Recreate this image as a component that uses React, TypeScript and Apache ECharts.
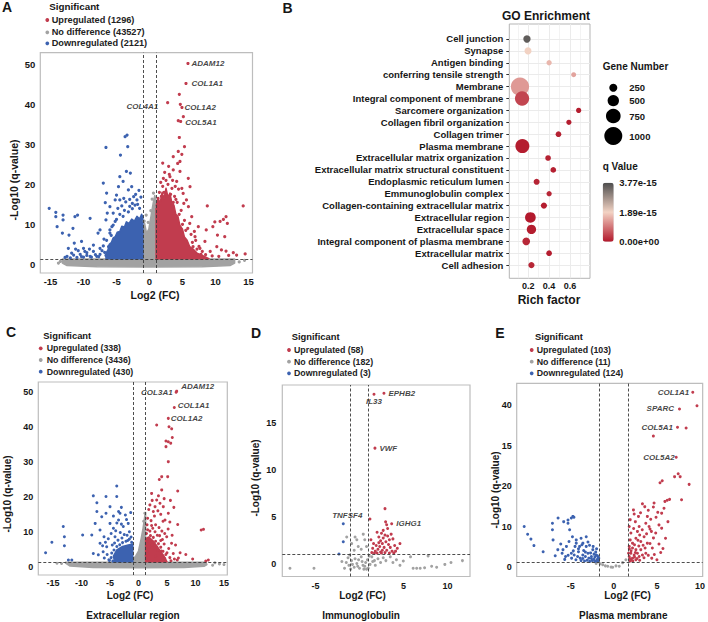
import React, { useEffect, useRef } from 'react';
import * as echarts from 'echarts';

// ================= DATA =================
// ---- Panel A : all genes ----
const A_UP = [
  [5.83,50.2],[5.53,45.2],[4.52,42.5],[2.75,40.4],[4.67,40.0],[4.92,39.2],[5.13,36.9],[4.36,35.9],[4.72,35.7],[4.52,31.7],
  [4.36,28.2],[4.62,25.7],[4.27,25.2],[3.6,23.6],[4.62,23.2],[5.88,21.5],[3.1,21.9],[4.12,20.7],[6.14,19.4],[8.76,14.6],
  [14.2,14.6],[11.6,11.9],[11.2,11.2],[10.7,10.7],[9.9,10.6],[11.8,10.2],[9.6,9.4],[10.3,7.3],[11.4,6.9],[8.6,8.6],
  [7.4,9.4],[6.1,10.2],[8.4,5.7],[10.2,4.4],[10.9,3.6],[11.6,3.3],[13.2,2.3],[14.5,2.6],[12.7,2.9],[9.2,3.2],
  [7.65,4.0],[6.9,6.9],[6.6,4.4],[5.6,16.1],[5.1,17.7],[5.9,14.4],[6.4,11.9],[1.5,18],[2,19.5],[2.5,21],
  [3,22.5],[2.8,20],[3.4,19],[3.8,17],[4.2,15.5],[4.8,13.5],[5.3,11],[5.8,9],[6.3,7.5],[7,6],
  [2.2,18],[1.8,17],[3.2,17.5],[4,16.2],[4.5,12.5],[5,10],[5.5,8.5],[6.5,5.5],[7.5,4.5],[8,3.2],
  [1.3,16.5],[2.6,17],[3.6,15.5],[2.3,23],[2.9,24.5],[3.5,21],[1.7,20.5],[4.9,19],[5.2,15.2],[6.8,8.2],
  [7.2,3.8],[8.5,2.4],[9.5,2.1],[10.5,2.0],[12,2.2],[7.8,2.5],[3.9,19.5],[2.1,21.5],[4.4,18.8],[2.0,25.3],
  [3.6,26.9],[5.3,29.4],[4.9,27.5]
];
const A_DOWN = [
  [-15.2,14.0],[-14.2,13.0],[-14.2,11.9],[-13.1,12.3],[-13.1,11.1],[-14.0,9.4],[-13.2,7.8],[-12.2,7.3],[-11.3,11.9],[-10.9,12.3],
  [-11.6,9.0],[-11.4,5.3],[-10.3,5.7],[-12.3,4.0],[-11.8,2.8],[-10.8,3.4],[-10.0,4.0],[-9.5,2.9],[-9.0,11.5],[-9.1,3.8],
  [-8.5,4.8],[-7.8,7.8],[-7.5,4.0],[-7.0,20.3],[-6.6,29.2],[-6.5,17.8],[-6.7,15.4],[-7.5,8.6],[-6.4,12.8],[-6.0,14.4],
  [-5.7,9.4],[-5.2,16.1],[-5.0,17.3],[-4.7,19.4],[-4.5,21.9],[-4.4,27.3],[-4.0,20.7],[-3.7,31.9],[-3.4,32.3],[-3.5,23.2],
  [-3.3,29.4],[-2.9,22.8],[-2.7,19.4],[-2.4,16.9],[-1.9,16.1],[-2.2,14.8],[-1.5,14.0],[-3.2,18.6],[-3.9,16.5],[-4.5,16.1],
  [-5.5,12.8],[-6.6,11.1],[-5.2,10.7],[-6.0,7.8],[-6.9,6.3],[-6.2,4.4],[-6,8.6],[-5.5,9.8],[-5,11.2],[-4.5,12.5],
  [-3.8,13.5],[-3,14.5],[-2.6,15.2],[-1.8,15.0],[-4,12],[-3.2,13.1],[-2.6,13.9],[-5.8,7.2],[-6.5,6],[-7,4.6],
  [-6.8,3],[-7.5,2.5],[-8,2],[-9,2],[-10,1.8],[-11,1.7],[-12,1.6],[-12.5,2],[-11.5,2.3],[-10.5,2.5],
  [-9.5,2.2],[-8.5,3.2],[-8.2,2.4],[-7.2,3.4],[-6.6,2.2],[-9.8,3.2],[-10.3,1.9],[-11.2,3.8],[-12.8,1.7],[-8.8,1.8],
  [-7.7,1.9],[-4.8,14.0],[-3.6,15.6],[-2.1,17.5],[-1.3,16.8],[-4.2,14.6],[-1.6,18.5],[-3.0,16.2]
];
const A_NS = [
  [0.6,17.8],[0.4,16.3],[-0.5,12.3],[0.7,14.3],[-0.8,10.8],[0.2,13.4],[-0.2,10.5],[13.6,0.6],[14.4,1.0],[-13.5,0.7],[-13.8,0.3]
];
const A_UP_CORE = [
  [1.0,1.4],[1.0,14.5],[1.3,16.5],[1.6,15.2],[1.9,18.0],[2.2,16.4],[2.5,19.0],[2.8,16.8],[3.1,17.8],[3.4,15.2],
  [3.7,14.8],[4.0,12.5],[4.3,12.0],[4.6,9.8],[5.0,8.8],[5.3,6.8],[5.7,6.0],[6.1,4.4],[6.6,3.8],[7.2,2.8],[8.0,2.2],[9.0,1.4]
];
const A_DOWN_CORE = [
  [-6.6,1.4],[-6.6,2.8],[-6.3,3.6],[-6.1,5.0],[-5.8,5.4],[-5.5,6.6],[-5.2,6.9],[-4.9,8.0],[-4.5,8.2],[-4.2,9.5],
  [-3.8,9.3],[-3.5,10.6],[-3.1,10.2],[-2.7,11.3],[-2.3,10.8],[-1.9,12.0],[-1.5,11.3],[-1.2,12.5],[-1.0,11.8],[-1.0,1.4]
];
const A_NS_BAND = [[-13.2,0.3],[-12.5,-0.3],[-8,-0.6],[0,-0.7],[8,-0.6],[12.2,-0.3],[12.9,0.3],[12.9,1.3],[-13.2,1.3]];
const A_NS_SPIKE = [[-1.0,1.3],[-1.0,8.5],[-0.75,10.3],[-0.45,7.8],[-0.1,8.8],[0.25,12.2],[0.55,15.2],[0.8,17.2],[1.0,15.8],[1.0,1.3]];
const A_GENES = [['ADAM12',5.83,50.2],['COL1A1',5.53,45.2],['COL1A2',4.92,39.2],['COL5A1',4.72,35.7],['COL4A1',2.75,40.4]];
const A_LEGEND = ['Upregulated (1296)', 'No difference (43527)', 'Downregulated (2121)'];

// ---- Panel C : Extracellular region ----
const C_UP = [
  [6.7,50.3],[6.6,50.0],[6.28,45.6],[5.23,42.5],[3.19,40.6],[5.35,40.1],[5.82,39.5],[4.82,36.0],[5.23,35.8],[5.65,35.4],
  [5.93,37.0],[4.82,34.4],[5.23,30.1],[4.07,25.8],[3.65,25.0],[5.12,25.8],[6.88,21.7],[2.3,21.0],[4.07,22.0],[6.88,12.1],
  [11.0,10.5],[11.4,10.7],[8.3,3.5],[12.25,1.9],[11.8,1.6],[7.3,4.0],[6.1,3.8],[5.8,6.7],[4.95,8.6],[4.65,13.4],
  [5.23,15.3],[4.35,17.2],[3.77,18.2],[3.19,19.1],[2.6,15.8],[2.0,17.7],[1.6,13.9],[1.5,12],[2.2,13.2],[2.8,14.5],
  [3.4,16],[3.9,15],[4.3,13],[3.0,12],[2.5,11],[3.6,11.2],[4.1,10.2],[4.6,9.5],[5.2,10.8],[5.5,12.8],
  [3.3,9.0],[2.0,10.2],[1.4,9.5],[3.9,7.5],[4.5,6.5],[5.3,5.2],[6.5,6.2],[5.9,9.0],[1.8,16.4],[2.4,19.0],
  [3.5,20.3],[4.5,19.5],[2.9,17.2],[6.2,17.0],[5.6,19.0],[7.0,2.5],[9.5,2.2],[6.8,1.9],[1.5,4.5],[3.0,3.0],
  [4.0,4.5],[1.4,6.5],[1.7,7.8],[2.1,8.9],[2.6,8.4],[3.0,7.3],[3.5,6.6],[3.9,5.6],[4.3,4.4],[4.8,3.5],
  [5.5,2.6],[1.6,10.6],[2.3,11.8],[2.9,10.0],[3.7,8.9],[4.2,7.8],[5.0,4.0],[1.9,5.5],[2.4,6.2],[6.3,2.2],
  [5.7,1.7],[3.4,4.8],[2.7,5.4],[4.6,2.3],[1.35,3.2]
];
const C_DOWN = [
  [-3.82,23.1],[-7.93,20.3],[-5.7,20.1],[-3.82,20.1],[-7.3,18.3],[-5.0,17.2],[-3.5,15.8],[-3.25,15.3],[-7.3,15.8],[-6.45,14.3],
  [-5.7,15.3],[-1.37,15.5],[-13.2,11.5],[-13.0,8.6],[-13.0,6.0],[-15.2,7.0],[-16.3,4.0],[-9.8,9.1],[-8.2,9.1],[-7.6,12.4],
  [-6.75,10.5],[-6.05,8.6],[-6.75,6.7],[-7.93,3.8],[-12.3,1.9],[-11.7,1.9],[-5.0,12.4],[-4.4,11.0],[-3.5,13.4],[-2.67,11.5],
  [-1.8,12.4],[-4.12,8.6],[-5.58,5.7],[-6.2,4.3],[-7.05,3.4],[-4.8,9.5],[-4.0,10.3],[-3.2,9.8],[-2.5,9.2],[-1.6,10.0],
  [-2.1,13.5],[-3.0,12.2],[-5.3,8.0],[-5.8,7.0],[-6.3,6.0],[-5.5,3.5],[-6.0,2.5],[-5.2,2.0],[-3.8,12.5],[-2.3,14.8],
  [-1.9,7.5],[-1.3,8.5],[-4.4,14.5],[-3.0,17.0],[-4.6,6.2],[-1.2,7.0],[-1.6,7.9],[-2.2,7.3],[-2.8,6.9],[-3.3,6.3],
  [-3.8,5.8],[-4.3,4.8],[-4.7,3.9],[-4.8,2.6],[-2.0,9.0],[-2.9,8.2],[-3.6,7.6],[-4.2,6.8],[-1.5,5.8],[-5.1,1.8],[-4.5,1.6]
];
const C_NS = [[14.2,0.8],[13.4,1.1],[13.0,0.4],[-13.5,0.9],[-14.3,1.0],[15.0,0.6],[1.1,15.3],[0.9,13.0]];
const C_UP_CORE = [[1.25,1.4],[1.25,8.0],[1.8,8.5],[2.5,7.5],[3.2,6.0],[3.8,4.5],[4.5,3.0],[5.0,1.4]];
const C_DOWN_CORE = [[-4.2,1.4],[-4.4,3.0],[-3.8,4.8],[-2.8,5.8],[-1.8,6.2],[-1.0,6.5],[-1.0,1.4]];
const C_NS_BAND = [[-12.8,1.0],[-12.0,0.2],[-8,-0.2],[0,-0.3],[8,-0.2],[11.5,0.1],[12.0,0.6],[11.8,1.3],[-12.8,1.3]];
const C_NS_SPIKE = [[-1.0,1.3],[-1.0,2.2],[-0.5,3.0],[0.0,4.5],[0.4,7.5],[0.8,11.0],[1.1,14.5],[1.25,15.5],[1.25,1.3]];
const C_GENES = [['ADAM12',6.7,50.3],['COL3A1',6.6,50.0],['COL1A1',6.28,45.6],['COL1A2',5.23,42.5]];
const C_LEGEND = ['Upregulated (338)', 'No difference (3436)', 'Downregulated (430)'];

// ---- Panel D : Immunoglobulin ----
const D_UP = [
  [2.78,18.1],[1.65,18.0],[1.76,12.3],[2.9,5.9],[1.19,4.8],[2.97,4.5],[3.09,4.2],[3.66,4.3],[2.0,3.4],[2.5,3.3],
  [2.9,3.1],[3.2,3.0],[2.2,2.9],[2.7,2.8],[3.4,2.6],[3.8,2.7],[2.4,2.5],[3.0,2.4],[1.6,2.2],[2.6,2.2],
  [3.3,2.1],[4.0,2.0],[4.6,2.2],[1.9,2.0],[2.3,1.9],[2.8,1.8],[3.5,1.8],[4.3,1.7],[1.5,1.7],[2.1,1.6],
  [2.6,1.5],[3.1,1.5],[3.7,1.4],[1.8,1.4],[2.4,1.3],[2.9,1.25],[1.4,1.25],[2.0,1.2],[3.4,1.2],[4.1,1.4],
  [1.3,2.6],[2.2,2.3],[3.6,3.2],[2.5,1.2],[1.7,1.2],[3.9,1.2],[2.7,3.6],[3.2,3.8]
];
const D_DOWN = [[-1.84,4.3],[-1.84,2.4],[-2.33,1.1]];
const D_NS = [
  [-1.5,0.2],[-1.2,-0.1],[-0.9,0.4],[-0.6,-0.3],[-0.3,0.1],[0.0,-0.4],[0.3,0.3],[0.6,-0.2],[0.9,0.5],[1.2,0.0],
  [1.5,0.3],[1.8,-0.1],[2.1,0.6],[-1.7,-0.4],[-1.0,-0.5],[-0.5,0.6],[0.2,0.8],[0.5,-0.5],[1.0,-0.4],[1.4,0.8],
  [2.4,0.2],[2.7,0.7],[-0.2,-0.2],[-0.8,0.0],[0.7,0.2],[1.1,0.9],[-1.3,0.7],[3.0,0.4],[3.5,0.8],[-2.0,0.3],
  [0.4,-0.1],[-0.1,0.5],[1.7,0.4],[0.8,-0.5],[-1.1,1.0],[0.43,3.2],[-0.5,2.9],[0.6,2.6],[-1.45,2.9],[-0.89,2.2],
  [-0.14,1.9],[0.2,1.6],[-0.6,1.5],[0.8,1.9],[-0.3,2.6],[-7.9,-0.4],[-5.17,-0.4],[4.98,0.36],[6.1,-0.4],[6.5,-0.4],
  [6.9,-0.4],[7.4,-0.35],[8.77,-0.3],[9.7,0.0],[10.4,0.2],[11.7,0.4],[7.8,0.9],[5.8,0.8],[4.2,0.5],[8.2,-0.2],
  [3.8,0.2],[4.6,-0.1]
];
const D_GENES = [['EPHB2',2.78,18.1],['IL33',1.65,18.0],['VWF',1.76,12.3],['TNFSF4',-1.84,4.3],['IGHG1',3.66,4.3]];
const D_LEGEND = ['Upregulated (58)', 'No difference (182)', 'Downregulated (3)'];

// ---- Panel E : Plasma membrane ----
const E_UP = [
  [9.16,43.2],[9.65,39.9],[7.62,39.1],[7.39,34.6],[8.39,34.4],[4.59,32.4],[7.24,27.2],[7.47,23.1],[7.7,22.4],[7.05,22.4],
  [5.62,21.4],[5.36,20.9],[8.74,20.5],[7.86,16.7],[6.47,16.8],[6.2,16.6],[5.93,16.3],[5.82,14.6],[6.28,11.3],[3.32,15.7],
  [3.59,15.0],[4.67,15.9],[4.59,14.9],[2.28,14.2],[2.36,13.2],[2.86,12.6],[3.89,12.6],[4.28,11.9],[5.55,13.4],[3.71,10.9],
  [4.09,10.1],[5.24,10.5],[5.55,9.7],[4.2,9.5],[4.36,8.9],[4.86,8.5],[2.94,10.1],[2.74,8.9],[1.79,10.1],[1.98,8.5],
  [2.56,7.2],[3.13,6.4],[3.51,7.6],[3.89,6.0],[5.24,5.8],[4.47,4.8],[3.63,4.8],[5.44,3.7],[4.4,2.3],[2.17,6.0],
  [1.79,5.2],[2.17,4.8],[2.56,4.4],[1.98,3.5],[2.36,3.1],[2.74,3.5],[1.79,2.7],[2.17,2.3],[2.56,1.9],[2.94,2.7],
  [3.32,3.1],[1.98,1.9],[1.71,3.5],[3.13,4.4],[3.71,3.5],[2.0,4.1],[2.4,2.6],[1.85,2.2],[2.7,2.2],[3.0,1.8],
  [2.2,1.6],[1.9,1.6],[2.5,3.7],[3.5,2.4],[4.0,3.0],[1.8,4.6],[2.9,5.3],[3.4,5.5],[4.2,5.9],[3.0,8.0],
  [3.3,9.3],[4.6,7.3],[2.3,9.6],[1.9,11.8],[2.5,11.3],[3.8,8.3],[4.9,12.4],[3.1,13.5],[4.0,14.1],[5.1,13.6],
  [6.0,7.2],[5.7,4.7],[4.7,3.2],[5.0,1.9],[2.8,6.7],[2.4,5.6],[1.9,6.8]
];
const E_DOWN = [
  [-10.4,10.1],[-10.0,8.2],[-9.62,7.0],[-9.27,5.4],[-8.2,3.9],[-7.05,6.8],[-7.12,10.9],[-7.12,9.3],[-6.47,12.2],[-5.82,11.3],
  [-5.32,11.7],[-4.93,12.2],[-4.75,12.6],[-4.63,12.4],[-5.13,9.3],[-5.32,10.9],[-6.16,5.8],[-5.9,4.4],[-5.5,5.2],[-4.93,3.5],
  [-5.3,3.0],[-4.36,6.8],[-4.36,6.0],[-4.5,5.2],[-3.97,5.2],[-3.59,6.0],[-3.2,7.6],[-3.2,5.2],[-3.0,3.5],[-2.82,5.5],
  [-2.44,4.4],[-2.05,3.1],[-1.75,2.3],[-2.0,1.6],[-2.3,2.0],[-2.6,2.7],[-2.9,2.3],[-3.3,2.7],[-3.6,3.1],[-3.9,2.3],
  [-4.2,2.7],[-4.6,3.1],[-4.9,2.3],[-5.6,2.7],[-6.0,3.5],[-6.5,4.4],[-4.1,3.9],[-3.5,4.2],[-2.7,3.6],[-2.2,2.6],
  [-1.9,2.0],[-1.8,1.6],[-2.5,1.7],[-3.1,1.8],[-3.8,1.7],[-4.4,1.9],[-2.1,3.8],[-2.4,5.2],[-3.0,6.3],[-3.8,7.2],
  [-4.1,4.6],[-1.9,2.9],[-2.2,1.5],[-2.8,1.5],[-3.4,1.6],[-2.6,2.2],[-3.6,2.2],[-4.7,4.1],[-5.2,6.4],[-2.3,3.3],
  [-1.8,2.5],[-1.95,1.8],[-3.3,3.8],[-2.0,4.6],[-3.7,5.6],[-4.8,7.6],[-5.7,2.0],[-6.8,2.9]
];
const E_NS = [[-1.59,0.9],[-1.29,0.7],[-0.98,0.4],[-0.71,0.3],[-0.32,0.1],[-0.13,0.05],[0.25,0.4],[0.63,0.3],[1.02,1.2],[1.4,1.9],[-2.05,1.0]];
const E_GENES = [['COL1A1',9.16,43.2],['SPARC',7.62,39.1],['COL5A1',7.39,34.6],['COL5A2',7.24,27.2]];
const E_LEGEND = ['Upregulated (103)', 'No difference (11)', 'Downregulated (124)'];
const E_Y_TICKS = [0, 10, 20, 30, 40];
const E_Y_TICK_TEXT = ['0', '10', '20', '15', '40'];

// ---- Panel B : GO enrichment ----
const GO_TERMS = [
  'Cell junction', 'Synapse', 'Antigen binding', 'conferring tensile strength', 'Membrane',
  'Integral component of membrane', 'Sarcomere organization', 'Collagen fibril organization', 'Collagen trimer', 'Plasma membrane',
  'Extracellular matrix organization', 'Extracellular matrix structural constituent', 'Endoplasmic reticulum lumen', 'Emmunoglobulin complex', 'Collagen-containing extracellular matrix',
  'Extracellular region', 'Extracellular space', 'Integral component of plasma membrane', 'Extracellular matrix', 'Cell adhesion'
];
const GO_RICH = [0.187, 0.197, 0.40, 0.636, 0.12, 0.14, 0.684, 0.59, 0.49, 0.143, 0.39, 0.44, 0.28, 0.40, 0.35, 0.22, 0.23, 0.18, 0.40, 0.23];
const GO_GENES = [200, 175, 50, 25, 1020, 720, 45, 45, 75, 700, 75, 75, 100, 45, 120, 450, 350, 230, 75, 120];
const GO_Q = [3.55e-15, 1.9e-15, 1.6e-15, 1.4e-15, 1.3e-15, 0.45e-15, 0.05e-15, 0.05e-15, 0.1e-15, 0.05e-15,
  0.1e-15, 0.08e-15, 0.12e-15, 0.15e-15, 0.05e-15, 0.02e-15, 0.05e-15, 0.15e-15, 0.05e-15, 0.15e-15];
const GENE_NUMBER_LEGEND = [250, 500, 750, 1000];
const Q_LEGEND = ['3.77e-15', '1.89e-15', '0.00e+00'];
const Q_MAX = 3.77e-15;
const RICH_TICKS = [0.2, 0.4, 0.6];
const RICH_GRID = [0.1, 0.2, 0.3, 0.4, 0.5, 0.6, 0.7];

// ================= STYLE / LAYOUT =================
const FONT = '"Liberation Sans", Arial, Helvetica, sans-serif';
const RED = '#c13c4e';
const BLUE = '#3c62b0';
const GRAY = '#a2a2a2';
const INK = '#161616';
const sizeOf = (n: number) => 4.67 + n / 75;

const VOLCANOS = [
  { gi: 0, L: { left: 40.3, top: 52.7, width: 212.2, height: 220.3, xMin: -16.55, xMax: 15.61, yMin: -2.18, yMax: 52.9, xm: 3, ym: 5, tick: 9.5, pt: 3.2 },
    D: { up: A_UP, down: A_DOWN, ns: A_NS, upCore: A_UP_CORE, downCore: A_DOWN_CORE, nsPolys: [A_NS_BAND, A_NS_SPIKE],
      xTicks: [-15, -10, -5, 0, 5, 10, 15], yTicks: [0, 10, 20, 30, 40, 50], vLines: [-1, 1], hLine: 1.3, genes: A_GENES },
    genePos: [['right', 3, [0, 0]], ['right', 5, [0, 0]], ['right', 2, [0, 0]], ['right', 4, [0, 1]], ['left', 9, [0, 4]]] },
  { gi: 2, L: { left: 38.3, top: 382, width: 189, height: 193, xMin: -17.58, xMax: 15.58, yMin: -2.38, yMax: 52.92, xm: 3, ym: 5, tick: 9, pt: 3 },
    D: { up: C_UP, down: C_DOWN, ns: C_NS, upCore: C_UP_CORE, downCore: C_DOWN_CORE, nsPolys: [C_NS_BAND, C_NS_SPIKE],
      xTicks: [-15, -10, -5, 0, 5, 10, 15], yTicks: [0, 10, 20, 30, 40, 50], vLines: [-1.0, 1.25], hLine: 1.3, genes: C_GENES },
    genePos: [['right', 4, [0, -5]], ['left', 3, [0, 0]], ['right', 3, [0, -2]], ['right', 2, [0, 0]]] },
  { gi: 3, L: { left: 282.3, top: 385, width: 187.7, height: 191.5, xMin: -8.77, xMax: 12.56, yMin: -1.28, yMax: 18.98, xm: 5, ym: 6, tick: 9, pt: 3 },
    D: { up: D_UP, down: D_DOWN, ns: D_NS, upCore: null, downCore: null, nsPolys: [],
      xTicks: [-5, 5, 10], yTicks: [0, 5, 10, 15], vLines: [-1, 1], hLine: 1.1, genes: D_GENES },
    genePos: [['right', 4, [0, 0]], ['bottom', 3, [0, 0]], ['right', 4, [0, 0]], ['top', 3, [4, -1]], ['right', 4, [0, 0]]] },
  { gi: 4, L: { left: 516.7, top: 383.3, width: 187.3, height: 193.2, xMin: -11.27, xMax: 10.31, yMin: -2.22, yMax: 45.42, xm: 5, ym: 5, tick: 9, pt: 3 },
    D: { up: E_UP, down: E_DOWN, ns: E_NS, upCore: null, downCore: null, nsPolys: [],
      xTicks: [-5, 0, 5, 10], yTicks: E_Y_TICKS, yTickText: E_Y_TICK_TEXT, vLines: [-1.7, 1.7], hLine: 1.3, genes: E_GENES },
    genePos: [['left', 3, [0, 0]], ['left', 5, [0, 0]], ['left', 4, [0, 0]], ['left', 1, [0, 0]]] },
];

const VOLCANO_DECOR = [
  { legend: A_LEGEND, tx: 49.3, ty: 6.7, dx: 47.3, lx: 51.7, ys: [20, 32.3, 43.3], fs: 9.2,
    letter: 'A', lX: 7, lY: 7, xName: [155, 295], yName: [14, 180], sub: null, nameFs: 10.5 },
  { legend: C_LEGEND, tx: 43.3, ty: 335, dx: 40.7, lx: 46.7, ys: [348.3, 360, 371.7], fs: 8.8,
    letter: 'C', lX: 11, lY: 332, xName: [130, 595], yName: [7, 494], sub: ['Extracellular region', 133, 615], nameFs: 10 },
  { legend: D_LEGEND, tx: 291.7, ty: 336.7, dx: 289, lx: 294, ys: [350, 361.7, 373.3], fs: 8.8,
    letter: 'D', lX: 256, lY: 332.5, xName: [362.5, 595], yName: [255, 478], sub: ['Immunoglobulin', 361, 615], nameFs: 10 },
  { legend: E_LEGEND, tx: 535, ty: 336.7, dx: 531.7, lx: 536.7, ys: [350, 361.7, 373.3], fs: 8.8,
    letter: 'E', lX: 500, lY: 332.5, xName: [627.5, 595], yName: [495, 490], sub: ['Plasma membrane', 623.3, 615], nameFs: 10 },
];

function polySeries(gi: number, poly: number[][], color: string, z: number) {
  return {
    type: 'custom', xAxisIndex: gi, yAxisIndex: gi, z, silent: true, clip: true,
    encode: { x: 0, y: 1 },
    data: [poly[0]],
    renderItem: (params: any, api: any) => ({
      type: 'polygon',
      shape: { points: poly.map((p) => api.coord(p)) },
      style: { fill: color, stroke: color, lineWidth: 1.5, lineJoin: 'round' },
    }),
  };
}

function scatterSeries(gi: number, data: number[][], color: string, size: number, extra: any = {}) {
  return {
    type: 'scatter', xAxisIndex: gi, yAxisIndex: gi, data, symbolSize: size, silent: true,
    itemStyle: { color, opacity: 1 }, z: 2, ...extra,
  };
}

function buildOption() {
  const grid: any[] = [];
  const xAxis: any[] = [];
  const yAxis: any[] = [];
  const series: any[] = [];
  const graphic: any[] = [];

  const txt = (x: number, y: number, text: string, size: number, o: any = {}) => ({
    type: 'text', x, y, rotation: o.rot || 0, silent: true, z: 100,
    style: { text, x: 0, y: 0, fontSize: size, fontWeight: 'bold', fontStyle: o.italic ? 'italic' : 'normal', fontFamily: FONT,
      fill: o.fill || INK, align: o.align || 'left', verticalAlign: 'middle' },
  });

  const grids: any = {};
  VOLCANOS.forEach((v) => { grids[v.gi] = v; });

  for (let gi = 0; gi < 5; gi++) {
    if (gi === 1) {
      grid.push({ left: 509.3, top: 24, width: 80.7, height: 254.3, show: true, borderColor: '#b5b5b5', borderWidth: 1, backgroundColor: '#fff' });
      xAxis.push({
        gridIndex: 1, type: 'value', min: 0.0173, max: 0.793,
        axisLine: { show: false }, splitLine: { show: false },
        axisTick: { show: true, customValues: RICH_TICKS, length: 3, lineStyle: { color: '#333', width: 1 } },
        axisLabel: { customValues: RICH_TICKS, formatter: (v: number) => v.toFixed(1), fontSize: 9, fontWeight: 'bold', color: INK, margin: 3, fontFamily: FONT },
      });
      const rows = GO_TERMS.map((_, i) => i);
      yAxis.push({
        gridIndex: 1, type: 'value', inverse: true, min: -1.26, max: 20.11,
        axisLine: { show: false }, splitLine: { show: false },
        axisTick: { show: true, customValues: rows, length: 3, lineStyle: { color: '#333', width: 1 } },
        axisLabel: { customValues: rows, formatter: (v: number) => GO_TERMS[Math.round(v)] || '', fontSize: 9.5, fontWeight: 'bold', color: INK, margin: 6, fontFamily: FONT },
      });
      continue;
    }
    const { L, D } = grids[gi];
    grid.push({ left: L.left, top: L.top, width: L.width, height: L.height, show: true, borderColor: '#bdbdbd', borderWidth: 1.2, backgroundColor: '#fff' });
    const lab = { fontSize: L.tick, fontWeight: 'bold', color: INK, fontFamily: FONT };
    xAxis.push({
      gridIndex: gi, type: 'value', min: L.xMin, max: L.xMax,
      axisLine: { show: false }, axisTick: { show: false }, splitLine: { show: false },
      axisLabel: { ...lab, margin: L.xm, customValues: D.xTicks, formatter: (v: number) => String(v) },
    });
    yAxis.push({
      gridIndex: gi, type: 'value', min: L.yMin, max: L.yMax,
      axisLine: { show: false }, axisTick: { show: false }, splitLine: { show: false },
      axisLabel: { ...lab, margin: L.ym, customValues: D.yTicks,
        formatter: (v: number) => (D.yTickText ? D.yTickText[D.yTicks.indexOf(v)] : String(v)) },
    });
  }

  VOLCANOS.forEach(({ gi, L, D, genePos }) => {
    D.nsPolys.forEach((p: number[][]) => series.push(polySeries(gi, p, GRAY, 1)));
    series.push(scatterSeries(gi, D.ns, GRAY, L.pt, {
      markLine: {
        silent: true, symbol: ['none', 'none'], label: { show: false }, z: 5,
        lineStyle: { type: [3, 2], color: '#3a3a3a', width: 0.9 },
        data: [...D.vLines.map((x: number) => ({ xAxis: x })), { yAxis: D.hLine }],
      },
    }));
    if (D.downCore) series.push(polySeries(gi, D.downCore, BLUE, 2));
    series.push(scatterSeries(gi, D.down, BLUE, L.pt));
    if (D.upCore) series.push(polySeries(gi, D.upCore, RED, 2));
    series.push(scatterSeries(gi, D.up, RED, L.pt));
    const gl = { fontSize: 8, fontWeight: 'bold', fontStyle: 'italic', color: '#111111', fontFamily: FONT, textBorderWidth: 0 };
    series.push({
      type: 'scatter', xAxisIndex: gi, yAxisIndex: gi, symbolSize: 1, silent: true, z: 6,
      itemStyle: { color: 'rgba(0,0,0,0)' },
      label: { show: true, ...gl },
      data: D.genes.map((g: any, i: number) => ({
        value: [g[1], g[2]],
        label: { show: true, ...gl, formatter: g[0], position: genePos[i][0], distance: genePos[i][1], offset: genePos[i][2] },
      })),
    });
  });

  const rowsAll = GO_TERMS.map((_, i) => i);
  series.push({
    type: 'scatter', xAxisIndex: 1, yAxisIndex: 1, z: 3, silent: true,
    encode: { x: 0, y: 1 },
    data: GO_TERMS.map((_, i) => [GO_RICH[i], i, GO_Q[i], GO_GENES[i]]),
    symbolSize: (v: number[]) => sizeOf(v[3]),
    itemStyle: { opacity: 1 },
    markLine: {
      silent: true, symbol: ['none', 'none'], label: { show: false }, z: 1,
      data: [
        ...RICH_GRID.map((x) => ({ xAxis: x, lineStyle: { color: '#ebebeb', width: RICH_TICKS.includes(x) ? 1 : 0.6, type: 'solid' } })),
        ...rowsAll.map((y) => ({ yAxis: y, lineStyle: { color: '#ebebeb', width: 1, type: 'solid' } })),
      ],
    },
  });
  const bubbleIndex = series.length - 1;

  VOLCANO_DECOR.forEach((d) => {
    graphic.push(txt(d.lX, d.lY, d.letter, 14, { align: 'center' }));
    graphic.push(txt(d.tx, d.ty, 'Significant', d.fs + 0.6));
    const cols = [RED, GRAY, BLUE];
    d.legend.forEach((s, i) => {
      graphic.push({ type: 'circle', silent: true, z: 100, shape: { cx: d.dx, cy: d.ys[i], r: 1.9 }, style: { fill: cols[i] } });
      graphic.push(txt(d.lx, d.ys[i], s, d.fs, { fill: '#222' }));
    });
    graphic.push(txt(d.xName[0], d.xName[1], 'Log2 (FC)', d.nameFs, { align: 'center' }));
    graphic.push(txt(d.yName[0], d.yName[1], '-Log10 (q-value)', d.nameFs, { align: 'center', rot: Math.PI / 2 }));
    if (d.sub) graphic.push(txt(d.sub[1] as number, d.sub[2] as number, d.sub[0] as string, d.nameFs, { align: 'center' }));
  });
  graphic.push(txt(287.5, 7.5, 'B', 14, { align: 'center' }));
  graphic.push(txt(546, 15.7, 'GO Enrichment', 12, { align: 'center' }));
  graphic.push(txt(549, 299.5, 'Rich factor', 12, { align: 'center' }));
  graphic.push(txt(602.7, 66.7, 'Gene Number', 10));
  const gy = [87.7, 100.7, 116, 136];
  GENE_NUMBER_LEGEND.forEach((n, i) => {
    graphic.push({ type: 'circle', silent: true, z: 100, shape: { cx: 613.3, cy: gy[i], r: sizeOf(n) / 2 }, style: { fill: '#000' } });
    graphic.push(txt(629.3, gy[i], String(n), 9.5));
  });
  graphic.push(txt(602.7, 166.7, 'q Value', 10));
  const qy = [182.7, 212.2, 241.7];
  Q_LEGEND.forEach((s, i) => graphic.push(txt(619.3, qy[i], s, 9.5)));

  return {
    animation: false,
    backgroundColor: '#ffffff',
    textStyle: { fontFamily: FONT },
    grid, xAxis, yAxis, series, graphic,
    visualMap: [{
      type: 'continuous', seriesIndex: bubbleIndex, dimension: 2, min: 0, max: Q_MAX,
      inRange: { color: ['#b2182b', '#f3d3c4', '#4d4d4d'] },
      left: 602.7, top: 182.7, itemWidth: 11, itemHeight: 59, padding: 0,
      calculable: false, realtime: false, hoverLink: false, orient: 'vertical', text: null,
      textStyle: { fontSize: 1, color: 'rgba(0,0,0,0)' },
    }],
  };
}

export default function App() {
  const ref = useRef<HTMLDivElement>(null);
  useEffect(() => {
    if (!ref.current) return;
    const chart = echarts.init(ref.current, null, { renderer: 'svg' });
    chart.setOption(buildOption() as any);
    return () => chart.dispose();
  }, []);
  return (
    <div
      ref={ref}
      style={{ position: 'fixed', left: 0, top: 0, width: 708, height: 622, background: '#fff' }}
    />
  );
}
